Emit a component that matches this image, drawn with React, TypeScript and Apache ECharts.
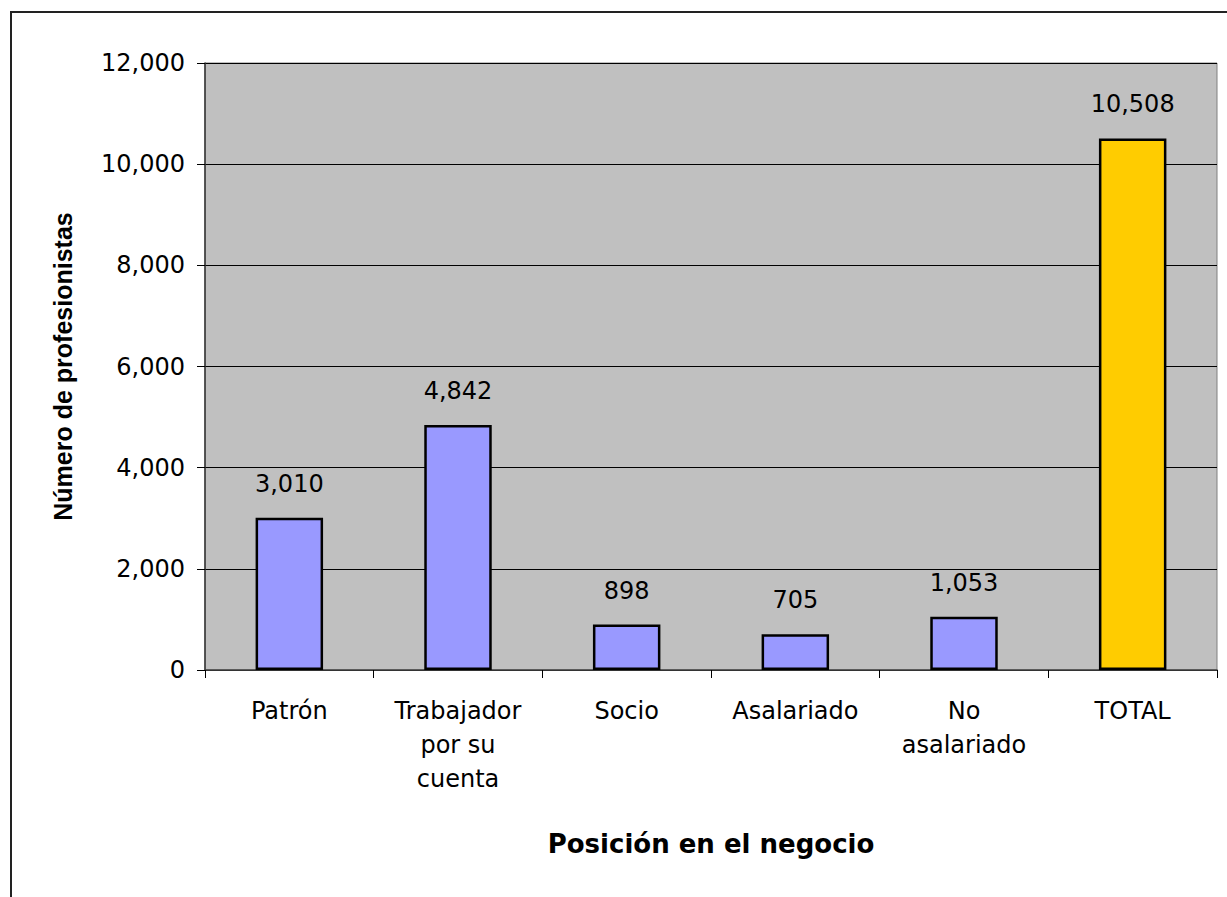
import React, { useEffect, useRef } from "react";
import * as echarts from "echarts";

const categories = ["Patrón", "Trabajador\npor su\ncuenta", "Socio", "Asalariado", "No\nasalariado", "TOTAL"];
const values = [3010, 4842, 898, 705, 1053, 10508];
const barColors = ["#9999FF", "#9999FF", "#9999FF", "#9999FF", "#9999FF", "#FFCC00"];
const yTicks = { min: 0, max: 12000, interval: 2000 };
const yAxisName = "Número de profesionistas";
const xAxisName = "Posición en el negocio";

const fmt = (v: number) => v.toLocaleString("en-US");

export default function App() {
  const ref = useRef<HTMLDivElement>(null);
  useEffect(() => {
    if (!ref.current) return;
    const chart = echarts.init(ref.current, null, { renderer: "svg" });
    chart.setOption({
      animation: false,
      backgroundColor: "#FFFFFF",
      textStyle: { fontFamily: "DejaVu Sans" },
      graphic: [
        {
          type: "polyline",
          shape: { points: [[11, 900], [11, 12], [1230, 12]] },
          style: { fill: "none", stroke: "#222222", lineWidth: 2 },
          silent: true,
          z: 100,
        },
      ],
      grid: {
        left: 205,
        right: 10,
        top: 63,
        bottom: 227,
        show: true,
        backgroundColor: "#C0C0C0",
        borderColor: "#808080",
        borderWidth: 1,
      },
      xAxis: {
        type: "category",
        data: categories,
        name: xAxisName,
        nameLocation: "middle",
        nameGap: 161,
        nameTextStyle: { fontFamily: "DejaVu Sans", fontWeight: "bold", fontSize: 26, color: "#000" },
        axisLine: { show: true, lineStyle: { color: "#444444", width: 1.5 } },
        axisTick: { show: true, length: 8, lineStyle: { color: "#000" }, alignWithLabel: false },
        axisLabel: { fontSize: 24, color: "#000", margin: 24, lineHeight: 34, interval: 0 },
        splitLine: { show: false },
      },
      yAxis: {
        type: "value",
        min: yTicks.min,
        max: yTicks.max,
        interval: yTicks.interval,
        name: yAxisName,
        nameLocation: "middle",
        nameGap: 130,
        nameTextStyle: { fontFamily: "Liberation Sans", fontWeight: "bold", fontSize: 25, color: "#000" },
        axisLine: { show: true, lineStyle: { color: "#333333", width: 1.5 } },
        axisTick: { show: true, length: 8, lineStyle: { color: "#000" } },
        axisLabel: { fontSize: 24, color: "#000", margin: 20, formatter: (v: number) => fmt(v) },
        splitLine: { show: true, lineStyle: { color: "#000", width: 1 } },
      },
      series: [
        {
          type: "bar",
          barWidth: "40%",
          data: values.map((v, i) => ({ value: v, itemStyle: { color: barColors[i] } })),
          itemStyle: { borderColor: "#000", borderWidth: 2.5 },
          label: {
            show: true,
            position: "top",
            distance: 22,
            fontSize: 24,
            color: "#000",
            formatter: (p: any) => fmt(p.value),
          },
        },
      ],
    });
    return () => chart.dispose();
  }, []);
  return (
    <div
      ref={ref}
      style={{ position: "fixed", left: 0, top: 0, width: 1227, height: 897 }}
    />
  );
}
